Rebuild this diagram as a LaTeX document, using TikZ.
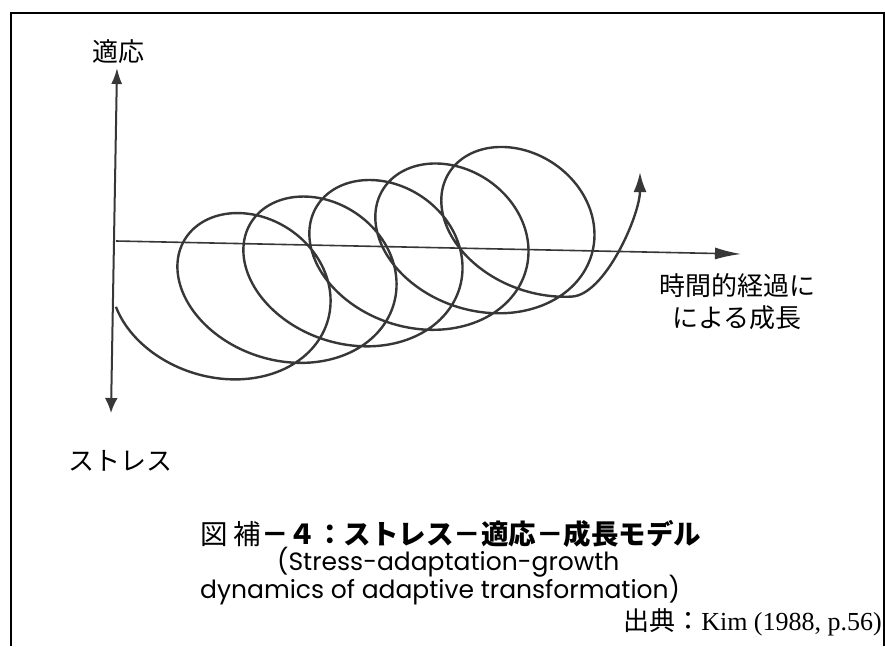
\documentclass[tikz,border=0pt]{standalone}
\usepackage{fontspec}
\newfontfamily\jpfont{Noto Sans CJK JP}
\newfontfamily\capfont{Poppins}
\newfontfamily\kimfont{Liberation Serif}
\usetikzlibrary{arrows.meta}
\definecolor{inkgray}{RGB}{55,55,55}
\begin{document}
\begin{tikzpicture}[x=1pt,y=-1pt,
  axisline/.style={draw=inkgray,line width=2pt},
  spiral/.style={draw=inkgray,line width=2.4pt},
  lbl/.style={font=\jpfont\fontsize{26}{32}\selectfont,inner sep=0pt},
  maskbox/.style={fill=white,draw=none},
  capline/.style={inner sep=0pt,anchor=west,text height=17pt,text depth=4pt}]
\useasboundingbox (0,0) rectangle (885,646);
% frame
\draw[line width=2.2pt] (11,646) -- (11,13) -- (884,13) -- (884,646);

% axes
\coordinate (ytop) at (117,68);
\coordinate (ybot) at (111,413);
\coordinate (origin) at (116,241);
\coordinate (xend) at (741,254);
\draw[axisline,{Latex[length=15pt,width=13pt]}-{Latex[length=16pt,width=11pt]}] (ybot) -- (ytop);
\draw[axisline,line width=1.6pt,-{Latex[length=26pt,width=12pt]}] (origin) -- (xend);

% growth spiral
\draw[spiral,-{Latex[length=20pt,width=13pt]}]
  plot[domain=-1.37:31.62,samples=700,variable=\t]
    ({221+10.5*\t+92.5*sin(\t r)},{300.8+79*cos((\t-0.17) r)-2.63*\t})
  .. controls (605,295) and (640,215) .. (640,172);

% labels
\node[lbl] (adapt) at (118,52) {適応};
\fill[maskbox] (30,428) rectangle (203,477);
\node[lbl] (stress) at (120,461) {ストレス};
\fill[maskbox] (628,267) rectangle (847,340);
\node[lbl,align=center] (growth) at (737,302) {時間的経過に\\による成長};

% caption
\node[capline,text height=22pt,text depth=3pt] (cap1) at (200,535) {\jpfont\fontsize{27.5}{30}\selectfont 図\ 補{\bfseries －４：ストレス－適応－成長モデル}};
\node[capline] (cap2) at (277,564) {\capfont\fontsize{25}{30}\selectfont (Stress-adaptation-growth};
\node[capline] (cap3) at (200,592) {\capfont\fontsize{25}{30}\selectfont dynamics of adaptive transformation)};
\node[inner sep=0pt,anchor=east,text height=19pt,text depth=3pt] (source) at (882,622) {\jpfont\fontsize{26}{30}\selectfont 出典：\kimfont Kim (1988, p.56)};
\end{tikzpicture}
\end{document}
